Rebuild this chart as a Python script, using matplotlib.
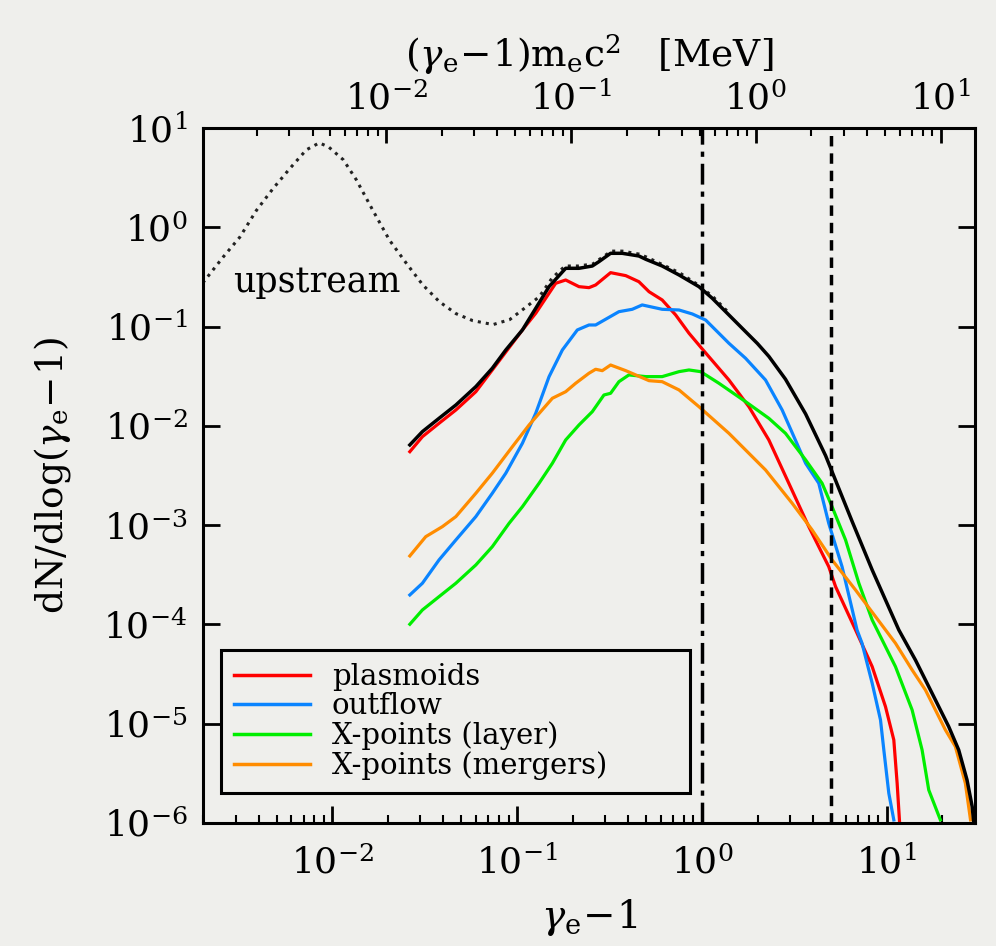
import matplotlib.pyplot as plt
import numpy as np
from matplotlib.ticker import LogLocator, NullLocator, NullFormatter, FixedLocator

plt.rcParams['font.family'] = ['DejaVu Serif']
plt.rcParams['mathtext.fontset'] = 'dejavuserif'

# values, as log10(gamma_e - 1) and log10(dN/dlog(gamma_e - 1))
up_lx = [-2.70, -2.59, -2.50, -2.41, -2.32, -2.23, -2.14, -2.07, -2.02, -1.94, -1.87,
         -1.78, -1.69, -1.60, -1.51, -1.42, -1.33, -1.24, -1.13, -1.04, -0.97, -0.88,
         -0.81, -0.74, -0.67, -0.59, -0.56, -0.49, -0.43, -0.34, -0.30, -0.22, -0.12,
         -0.02, 0.06, 0.15]
up_ly = [-0.56, -0.30, -0.10, 0.17, 0.39, 0.59, 0.78, 0.85, 0.81, 0.68, 0.48,
         0.17, -0.13, -0.36, -0.58, -0.75, -0.87, -0.94, -0.98, -0.93, -0.83, -0.70,
         -0.51, -0.39, -0.39, -0.37, -0.33, -0.24, -0.24, -0.27, -0.30, -0.37, -0.46,
         -0.58, -0.70, -0.87]

tot_lx = [-1.580, -1.512, -1.422, -1.331, -1.223, -1.134, -1.061, -0.971, -0.827, -0.737,
          -0.665, -0.593, -0.557, -0.494, -0.431, -0.341, -0.304, -0.215, -0.124, -0.016,
          0.056, 0.146, 0.236, 0.300, 0.362, 0.452, 0.561, 0.669, 0.812, 0.921, 1.065, 1.155,
          1.245, 1.335, 1.389, 1.434, 1.462, 1.470]
tot_ly = [-2.192, -2.058, -1.924, -1.790, -1.605, -1.420, -1.236, -1.034, -0.598, -0.413,
          -0.413, -0.390, -0.346, -0.262, -0.262, -0.289, -0.322, -0.390, -0.480, -0.598,
          -0.715, -0.883, -1.051, -1.170, -1.300, -1.530, -1.880, -2.300, -2.960, -3.451, -4.055, -4.358,
          -4.693, -5.029, -5.264, -5.566, -5.835, -5.986]

red_lx = [-1.580, -1.512, -1.422, -1.331, -1.223, -1.134, -0.971, -0.899, -0.791, -0.737,
          -0.665, -0.611, -0.575, -0.494, -0.412, -0.341, -0.286, -0.215, -0.142, -0.070,
          0.002, 0.146, 0.254, 0.362, 0.470, 0.578, 0.686, 0.723, 0.831, 0.921, 0.993,
          1.038, 1.056, 1.069]
red_ly = [-2.260, -2.109, -1.974, -1.840, -1.656, -1.437, -1.034, -0.866, -0.564, -0.531,
          -0.598, -0.608, -0.581, -0.457, -0.487, -0.548, -0.649, -0.732, -0.883, -1.067,
          -1.226, -1.538, -1.807, -2.142, -2.578, -3.015, -3.418, -3.619, -4.055, -4.425, -4.828,
          -5.163, -5.599, -5.986]

blue_lx = [-1.580, -1.512, -1.422, -1.331, -1.223, -1.134, -1.061, -0.971, -0.899, -0.827,
           -0.755, -0.674, -0.611, -0.575, -0.449, -0.377, -0.323, -0.215, -0.124, -0.052,
           0.020, 0.146, 0.236, 0.344, 0.434, 0.561, 0.632, 0.686, 0.758, 0.839, 0.866,
           0.921, 0.966, 0.984, 1.011, 1.038]
blue_ly = [-3.703, -3.585, -3.350, -3.149, -2.914, -2.679, -2.477, -2.175, -1.873, -1.505,
           -1.236, -1.034, -0.984, -0.984, -0.850, -0.826, -0.782, -0.826, -0.833, -0.873,
           -0.934, -1.168, -1.319, -1.538, -1.840, -2.377, -2.578, -2.981, -3.418, -4.055, -4.189,
           -4.592, -4.962, -5.264, -5.700, -5.969]

green_lx = [-1.580, -1.512, -1.422, -1.331, -1.223, -1.134, -1.043, -0.971, -0.881, -0.809,
            -0.737, -0.665, -0.593, -0.530, -0.494, -0.449, -0.395, -0.304, -0.215, -0.124,
            -0.070, -0.007, 0.092, 0.236, 0.362, 0.452, 0.561, 0.650, 0.704, 0.777, 0.849,
            0.921, 0.957, 1.047, 1.137, 1.191, 1.227, 1.290]
green_ly = [-3.998, -3.854, -3.720, -3.585, -3.401, -3.217, -2.981, -2.814, -2.578, -2.377,
            -2.142, -1.991, -1.857, -1.689, -1.672, -1.555, -1.487, -1.504, -1.504, -1.454,
            -1.437, -1.454, -1.571, -1.756, -1.924, -2.075, -2.343, -2.578, -2.814, -3.149, -3.585,
            -3.955, -4.089, -4.425, -4.861, -5.264, -5.667, -5.969]

orange_lx = [-1.580, -1.494, -1.404, -1.331, -1.223, -1.134, -1.025, -0.935, -0.809, -0.737,
             -0.683, -0.611, -0.575, -0.539, -0.494, -0.412, -0.358, -0.286, -0.215, -0.124,
             -0.016, 0.146, 0.344, 0.488, 0.596, 0.704, 0.831, 0.993, 1.047, 1.137, 1.209,
             1.317, 1.371, 1.425, 1.453]
orange_ly = [-3.310, -3.116, -3.015, -2.914, -2.679, -2.477, -2.209, -1.991, -1.722, -1.656,
             -1.571, -1.470, -1.430, -1.444, -1.387, -1.444, -1.487, -1.545, -1.555, -1.638,
             -1.807, -2.075, -2.444, -2.779, -3.048, -3.350, -3.653, -4.055, -4.189, -4.458, -4.660,
             -5.062, -5.230, -5.599, -5.969]

labels = ['plasmoids', 'outflow', 'X-points (layer)', 'X-points (mergers)']
colors = ['#ff0000', '#0a84ff', '#00ee00', '#ff8c00']
vlines = [1.0, 5.0]
mev_ticks = [1e-2, 1e-1, 1e0, 1e1]
mec2 = 0.511  # MeV

bg = '#efefec'
fig = plt.figure(figsize=(9.96, 9.46), dpi=100, facecolor=bg)
ax = fig.add_axes([0.2038, 0.130, 0.7751, 0.7347], facecolor=bg)

p = lambda a: 10 ** np.array(a)

ax.plot(p(up_lx), p(up_ly), ':', color='#222222', lw=2.2)
series = [(red_lx, red_ly), (blue_lx, blue_ly), (green_lx, green_ly), (orange_lx, orange_ly)]
for (lx, ly), c, lab in zip(series, colors, labels):
    ax.plot(p(lx), p(ly), color=c, lw=2.3, label=lab)
ax.plot(p(tot_lx), p(tot_ly), color='black', lw=2.5)

ax.axvline(vlines[0], color='black', lw=2.5, ls=(0, (6, 2, 1.5, 2)))
ax.axvline(vlines[1], color='black', lw=2.5, ls=(0, (3, 2)))

ax.set_xscale('log')
ax.set_yscale('log')
ax.set_xlim(2e-3, 30)
ax.set_ylim(1e-6, 10)

ax.yaxis.set_major_locator(LogLocator(base=10, numticks=20))
ax.yaxis.set_minor_locator(NullLocator())
ax.xaxis.set_major_locator(LogLocator(base=10, numticks=20))
ax.xaxis.set_minor_locator(LogLocator(base=10, subs=np.arange(2, 10), numticks=20))
ax.xaxis.set_minor_formatter(NullFormatter())

ax.tick_params(which='major', direction='in', length=12, width=2, labelsize=26, pad=16)
ax.tick_params(which='minor', direction='in', length=6, width=1.5)
ax.tick_params(axis='y', which='both', left=True, right=True, labelleft=True, pad=11)
ax.tick_params(axis='x', which='both', bottom=True, top=False)
for s in ax.spines.values():
    s.set_linewidth(2.2)

ax.set_xlabel(r'$\gamma_{\rm e}\!-\!1$', fontsize=28, labelpad=12)
ax.set_ylabel(r'dN/dlog($\gamma_{\rm e}\!-\!1$)', fontsize=27, labelpad=22)

ax.text(2.9e-3, 0.28, 'upstream', fontsize=25, va='center', ha='left')

sec = ax.secondary_xaxis('top', functions=(lambda x: x * mec2, lambda x: x / mec2))
sec.xaxis.set_major_locator(FixedLocator(mev_ticks))
sec.xaxis.set_minor_locator(LogLocator(base=10, subs=np.arange(2, 10), numticks=20))
sec.xaxis.set_minor_formatter(NullFormatter())
sec.tick_params(which='major', direction='in', length=11, width=2, labelsize=26, pad=8)
sec.tick_params(which='minor', direction='in', length=6, width=1.5)
sec.set_xlabel(r'$(\gamma_{\rm e}\!-\!1){\rm m_ec^2}\ \ \ [{\rm MeV}]$', fontsize=27,
               labelpad=10)

leg = ax.legend(loc='lower left', bbox_to_anchor=(0.0233, 0.0432, 0.6075, 0.194),
                mode='expand', borderaxespad=0,
                fontsize=21, frameon=True, fancybox=False, handlelength=2.6,
                handletextpad=0.75, labelspacing=0.04, borderpad=0.45)
leg.get_frame().set_edgecolor('black')
leg.get_frame().set_linewidth(2.2)
leg.get_frame().set_facecolor(bg)
leg.get_frame().set_alpha(1)
for h in leg.get_lines():
    h.set_linewidth(2.5)

fig.savefig('out.png', dpi=100, facecolor=bg)
